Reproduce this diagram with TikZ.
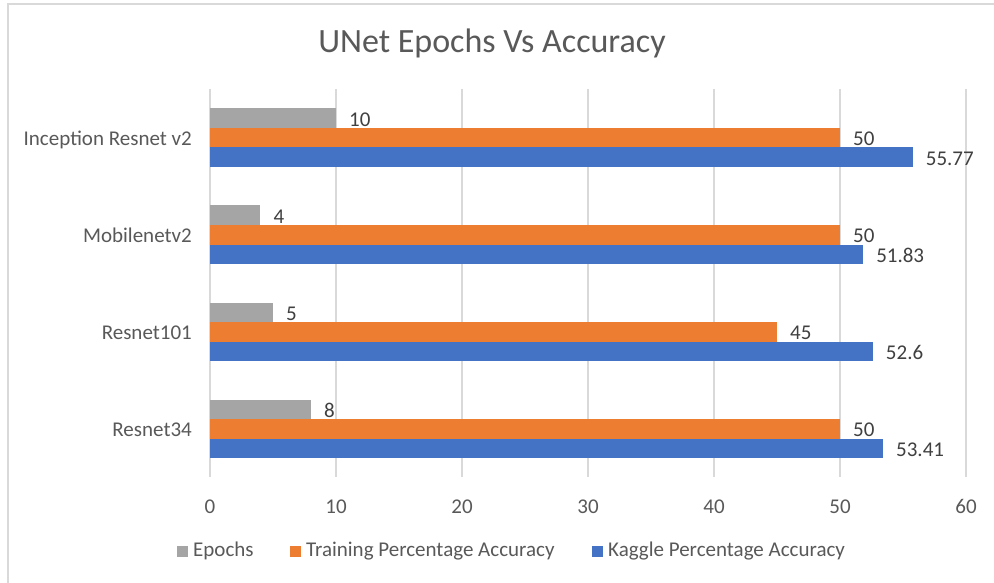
\documentclass[tikz,border=0pt]{standalone}
\usepackage{fontspec}
\setmainfont{Carlito}
\definecolor{gridc}{HTML}{D9D9D9}
\definecolor{txt}{HTML}{595959}
\definecolor{vtxt}{HTML}{404040}
\definecolor{cgray}{HTML}{A5A5A5}
\definecolor{corange}{HTML}{ED7D31}
\definecolor{cblue}{HTML}{4472C4}
\tikzset{
  lbl/.style={font=\fontsize{21}{25}\selectfont, text=txt, inner sep=0pt},
  vlbl/.style={font=\fontsize{21}{25}\selectfont, text=vtxt, inner sep=0pt, anchor=base west},
  gridline/.style={draw=gridc, line width=1.3pt},
  legsq/.style={minimum size=11pt, inner sep=0pt, draw=none},
}
\begin{document}
\begin{tikzpicture}[x=1pt,y=-1pt]
\useasboundingbox (0,0) rectangle (994,583);
\fill[white] (0,0) rectangle (994,583);
\draw[gridc, line width=1.5pt] (8,583) -- (8,4) -- (994,4);
% title
\node[font=\fontsize{34}{40}\selectfont, text=txt, inner sep=0pt, anchor=base] (title) at (492,53) {UNet Epochs Vs Accuracy};
% gridlines and tick labels
\foreach \k/\v in {0/0,1/10,2/20,3/30,4/40,5/50,6/60}{
  \draw[gridline] ({210+126*\k},89) -- ({210+126*\k},477);
  \node[lbl, anchor=base] (t\k) at ({210+126*\k},513) {\v};
}
% bars
\foreach \b/\g/\o/\bl/\name/\i in {89/10/50/55.77/Inception Resnet v2/1, 186/4/50/51.83/Mobilenetv2/2, 283/5/45/52.6/Resnet101/3, 380/8/50/53.41/Resnet34/4}{
  \fill[cgray] (210,{\b+19.5}) rectangle ({210+12.6*\g},{\b+39});
  \fill[corange] (210,{\b+39}) rectangle ({210+12.6*\o},{\b+58.5});
  \fill[cblue] (210,{\b+58.5}) rectangle ({210+12.6*\bl},{\b+78});
  \node[vlbl] (vg\i) at ({210+12.6*\g+13},{\b+29.25+8}) {\g};
  \node[vlbl] (vo\i) at ({210+12.6*\o+13},{\b+48.75+8}) {\o};
  \node[vlbl] (vb\i) at ({210+12.6*\bl+13},{\b+68.25+8}) {\bl};
  \node[lbl, anchor=base east] (c\i) at (192,{\b+48.75+7.5}) {\name};
}
% legend
\node[legsq, fill=cgray] (lg1) at (182,551.5) {};
\node[lbl, anchor=base west] (lt1) at (193,556.5) {Epochs};
\node[legsq, fill=corange] (lg2) at (295,551.5) {};
\node[lbl, anchor=base west] (lt2) at (306,556.5) {Training Percentage Accuracy};
\node[legsq, fill=cblue] (lg3) at (597,551.5) {};
\node[lbl, anchor=base west] (lt3) at (608,556.5) {Kaggle Percentage Accuracy};
\end{tikzpicture}
\end{document}
